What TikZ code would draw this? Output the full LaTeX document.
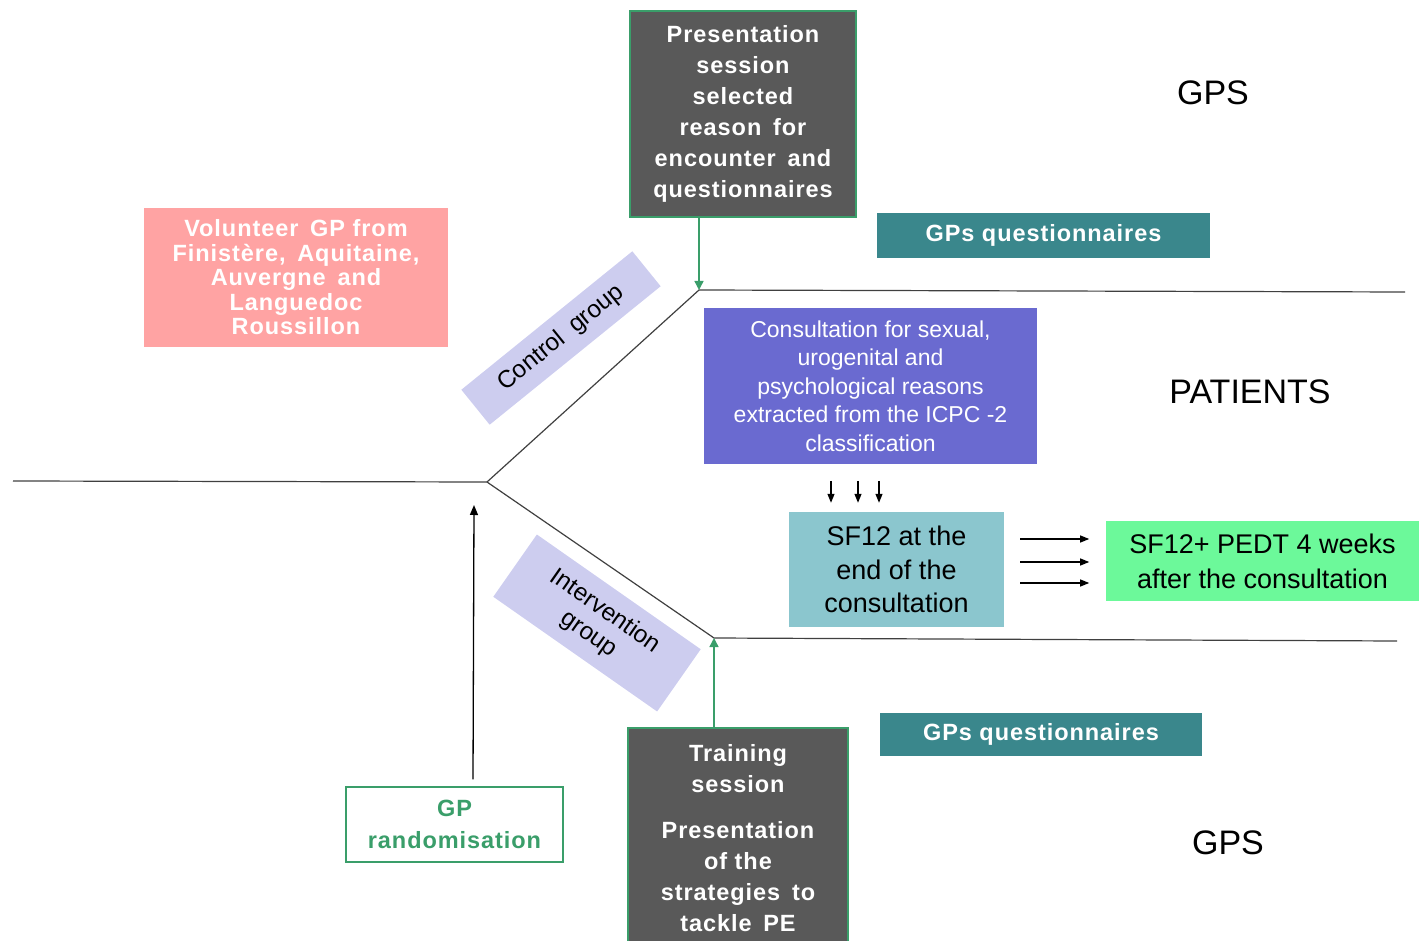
\documentclass[tikz,border=0pt]{standalone}
\usepackage{fontspec}
\setmainfont{Liberation Sans}
\newfontfamily\wideb[LetterSpace=4,BoldFont={* Bold}]{Liberation Sans}
\usetikzlibrary{arrows.meta,calc}
\definecolor{darkbox}{HTML}{595959}
\definecolor{boxgreen}{HTML}{3A9E6A}
\definecolor{pinkbox}{HTML}{FFA3A3}
\definecolor{tealbox}{HTML}{3A878C}
\definecolor{purplebox}{HTML}{6A6AD0}
\definecolor{bluebox}{HTML}{8BC6CE}
\definecolor{greenbox}{HTML}{6CF99A}
\definecolor{lavender}{HTML}{CDCDEF}
\definecolor{linegray}{HTML}{404040}
\newcommand{\dsp}{\hspace{0.5em}}
\begin{document}
\begin{tikzpicture}[x=1pt,y=-1pt,
  darknode/.style={draw=boxgreen,line width=1.5pt,fill=darkbox,text=white,align=center,
    inner sep=0pt,font=\fontsize{23.5}{31}\selectfont\wideb\bfseries},
  colbox/.style={inner sep=0pt,align=center},
  rotbox/.style={fill=lavender,inner sep=0pt,align=center,font=\fontsize{24.5}{28}\selectfont},
  bigword/.style={font=\fontsize{34}{40}\selectfont},
  axisline/.style={draw=linegray,line width=1.2pt},
  greenarrow/.style={draw=boxgreen,line width=1.4pt,-{Triangle[length=9pt,width=9pt]}},
  blackarrow/.style={draw=black,line width=1.3pt,-{Triangle[length=10pt,width=8pt]}},
  smallarrow/.style={draw=black,line width=1.2pt,-{Triangle[length=9pt,width=7pt]}}]
\useasboundingbox (0,0) rectangle (1419,941);
\begin{scope}
\clip (0,0) rectangle (1419,941);

% axis lines
\coordinate (lend) at (13,481);
\coordinate (br) at (487,482);
\coordinate (ctop) at (699,290);
\coordinate (rtop) at (1405,292);
\coordinate (cbot) at (714,638);
\coordinate (rbot) at (1397,641);
\draw[axisline] (lend) -- (br);
\draw[axisline] (br) -- (ctop) -- (rtop);
\draw[axisline] (br) -- (cbot) -- (rbot);

% top dark box
\node[darknode,minimum width=226,minimum height=206] (pres) at (743,114)
  {Presentation\\session\\selected\\reason\dsp for\\encounter\dsp and\\questionnaires};
\draw[greenarrow] (pres.south -| ctop) -- (ctop);

% pink box
\node[colbox,fill=pinkbox,text=white,minimum width=304,minimum height=139,
  font=\fontsize{23.5}{24.5}\selectfont\wideb\bfseries] (vol) at (296,277.5)
  {Volunteer\dsp GP from\\Finistère,\dsp Aquitaine,\\Auvergne\dsp and\\Languedoc\\Roussillon};

% GPs questionnaires
\node[colbox,fill=tealbox,text=white,minimum width=333,minimum height=45,
  font=\fontsize{23.5}{28}\selectfont\wideb\bfseries] (gq1) at (1043.5,235.5) {GPs questionnaires};
\node[colbox,fill=tealbox,text=white,minimum width=322,minimum height=43,
  font=\fontsize{23.5}{28}\selectfont\wideb\bfseries] (gq2) at (1041,734.5) {GPs questionnaires};

% rotated boxes
\node[rotbox,rotate=39,minimum width=220,minimum height=45] (ctrl) at (561,338) {Control\dsp group};
\node[rotbox,rotate=-35,minimum width=200,minimum height=76] (intv) at (597,623) {Intervention\\group};

% purple box
\node[colbox,fill=purplebox,text=white,minimum width=333,minimum height=156,
  font=\fontsize{23}{28.4}\selectfont] (cons) at (870.5,386)
  {Consultation for sexual,\\urogenital and\\psychological reasons\\extracted from the ICPC -2\\classification};

% SF12 box
\node[colbox,fill=bluebox,text=black,minimum width=215,minimum height=115,
  font=\fontsize{27}{33.5}\selectfont] (sf) at (896.5,569.5)
  {SF12 at the\\end of the\\consultation};
\foreach \dx in {-65.5,-38.5,-17.5}
  \draw[smallarrow] ($(sf.north)+(\dx,-31)$) -- ($(sf.north)+(\dx,-9)$);

% green box
\node[colbox,fill=greenbox,text=black,minimum width=313,minimum height=80,
  font=\fontsize{27}{35}\selectfont] (post) at (1262.5,561)
  {SF12+ PEDT 4 weeks\\after the consultation};
\foreach \dy in {-30.5,-7.5,13.5}
  \draw[smallarrow] ($(sf.east)+(16,\dy)$) -- ($(sf.east)+(85,\dy)$);

% randomisation
\node[colbox,draw=boxgreen,line width=1.2pt,fill=white,text=boxgreen,minimum width=217,minimum height=75,
  font=\fontsize{23.5}{32}\selectfont\wideb\bfseries] (rand) at (454.5,824.5) {GP\\randomisation};
\coordinate (rtip) at (474,505);
\draw[blackarrow] ($(rand.north -| rtip)+(-1,-7)$) -- (rtip);

% training box
\node[darknode,anchor=north,minimum width=220,minimum height=220] (train) at (738,727)
  {Training\\session\\[15pt]Presentation\\of the\\strategies\dsp to\\tackle\dsp PE};
\draw[greenarrow] (train.north -| cbot) -- (cbot);

% big words
\node[bigword] (gpstop) at (1213,93) {GPS};
\node[bigword] (pat) at (1250,392) {PATIENTS};
\node[bigword] (gpsbot) at (1228,843) {GPS};
\end{scope}
\end{tikzpicture}
\end{document}
